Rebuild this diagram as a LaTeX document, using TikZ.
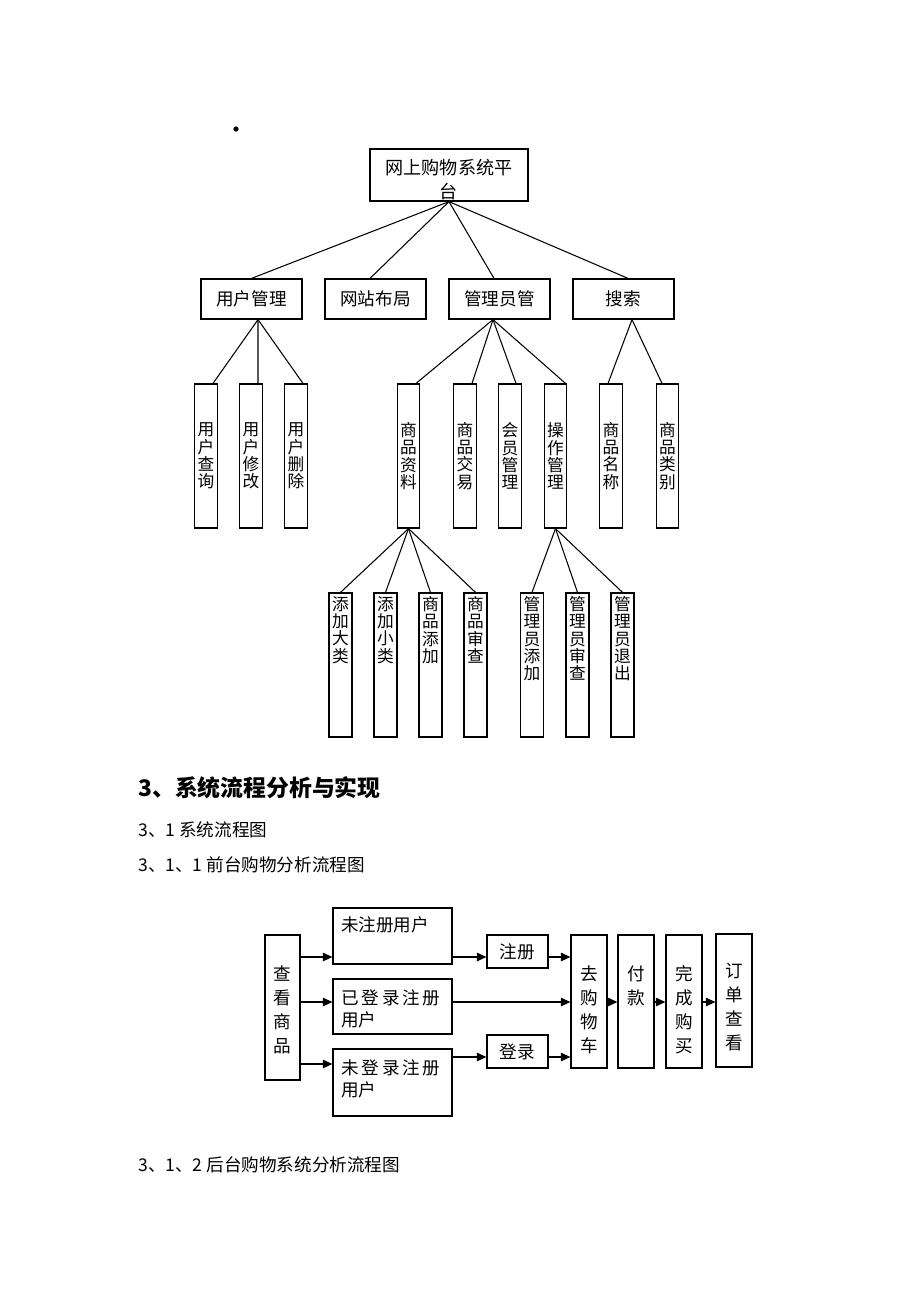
\documentclass[tikz,border=0pt]{standalone}
\usepackage{fontspec}
\setmainfont{Noto Sans CJK SC}
\usetikzlibrary{arrows.meta}

% box of fixed size, text starting at the top
\newcommand{\boxtop}[4]{\begin{minipage}[c][#2][t]{#1}\vspace*{#3}#4\end{minipage}}

\begin{document}
\begin{tikzpicture}[
  x=0.02cm, y=-0.02cm,
  module/.style={rectangle, draw, line width=0.7pt, inner sep=0pt, align=center, font=\fontsize{10}{13.6}\selectfont},
  wide/.style={module, minimum width=2.02cm, minimum height=0.8cm},
  tall/.style={module, minimum width=0.45cm, minimum height=2.88cm, font=\fontsize{9.5}{9.8}\selectfont},
  leaf/.style={rectangle, draw, line width=0.7pt, inner sep=0pt, font=\fontsize{9.5}{9.8}\selectfont},
  branch/.style={line width=0.6pt},
  fbox/.style={rectangle, draw, line width=0.7pt, inner sep=0pt, font=\fontsize{10}{12.5}\selectfont},
  flow/.style={-{Triangle[length=1.9mm, width=1.7mm]}, line width=0.6pt},
  heading/.style={anchor=west, inner sep=0pt, font=\fontsize{10}{12}\selectfont}
]
\useasboundingbox (0,0) rectangle (920,1302);

\fill (236,129) circle (1.5pt);

% Level 0
\node[leaf, font=\fontsize{10.3}{13.6}\selectfont] (Platform) at (449,175) {\boxtop{3.16cm}{1.04cm}{0.2cm}{\centering 网上购物系统平\\台}};

% Level 1
\node[wide] (UserMgmt) at (251.5,299) {用户管理};
\node[wide] (SiteLayout) at (375.5,299) {网站布局};
\node[wide] (AdminMgmt) at (499.5,299) {管理员管};
\node[wide] (Search) at (623.5,299) {搜索};

% Level 2
\node[tall] (UserQuery) at (206,456) {用\\户\\查\\询};
\node[tall] (UserEdit) at (251,456) {用\\户\\修\\改};
\node[tall] (UserDelete) at (296,456) {用\\户\\删\\除};
\node[tall] (GoodsInfo) at (408.5,456) {商\\品\\资\\料};
\node[tall] (GoodsTrade) at (465,456) {商\\品\\交\\易};
\node[tall] (MemberMgmt) at (510,456) {会\\员\\管\\理};
\node[tall] (OpMgmt) at (555.5,456) {操\\作\\管\\理};
\node[tall] (GoodsName) at (611,456) {商\\品\\名\\称};
\node[tall] (GoodsType) at (667.5,456) {商\\品\\类\\别};

% Level 3
\node[leaf] (AddMajor) at (340.5,665) {\boxtop{0.46cm}{2.88cm}{2pt}{\centering 添\\加\\大\\类}};
\node[leaf] (AddMinor) at (385.5,665) {\boxtop{0.46cm}{2.88cm}{2pt}{\centering 添\\加\\小\\类}};
\node[leaf] (GoodsAdd) at (430.5,665) {\boxtop{0.46cm}{2.88cm}{2pt}{\centering 商\\品\\添\\加}};
\node[leaf] (GoodsAudit) at (475.5,665) {\boxtop{0.46cm}{2.88cm}{2pt}{\centering 商\\品\\审\\查}};
\node[leaf] (AdminAdd) at (532,665) {\boxtop{0.46cm}{2.88cm}{2pt}{\centering 管\\理\\员\\添\\加}};
\node[leaf] (AdminAudit) at (577.5,665) {\boxtop{0.46cm}{2.88cm}{2pt}{\centering 管\\理\\员\\审\\查}};
\node[leaf] (AdminExit) at (622.5,665) {\boxtop{0.46cm}{2.88cm}{2pt}{\centering 管\\理\\员\\退\\出}};

% Platform -> modules
\draw[branch] (Platform.south) -- (UserMgmt.north);
\draw[branch] (Platform.south) -- ([xshift=-0.11cm]SiteLayout.north);
\draw[branch] (Platform.south) -- ([xshift=-0.11cm]AdminMgmt.north);
\draw[branch] (Platform.south) -- ([xshift=0.09cm]Search.north);

% modules -> functions
\draw[branch] ([xshift=0.13cm]UserMgmt.south) -- ([xshift=0.14cm]UserQuery.north);
\draw[branch] ([xshift=0.13cm]UserMgmt.south) -- ([xshift=0.14cm]UserEdit.north);
\draw[branch] ([xshift=0.13cm]UserMgmt.south) -- ([xshift=0.14cm]UserDelete.north);
\draw[branch] ([xshift=-0.13cm]AdminMgmt.south) -- ([xshift=0.15cm]GoodsInfo.north);
\draw[branch] ([xshift=-0.13cm]AdminMgmt.south) -- ([xshift=0.14cm]GoodsTrade.north);
\draw[branch] ([xshift=-0.13cm]AdminMgmt.south) -- ([xshift=0.12cm]MemberMgmt.north);
\draw[branch] ([xshift=-0.13cm]AdminMgmt.south) -- ([xshift=0.2cm]OpMgmt.north);
\draw[branch] ([xshift=0.17cm]Search.south) -- ([xshift=-0.06cm]GoodsName.north);
\draw[branch] ([xshift=0.17cm]Search.south) -- ([xshift=-0.11cm]GoodsType.north);

% functions -> sub functions
\draw[branch] (GoodsInfo.south) -- (AddMajor.north);
\draw[branch] (GoodsInfo.south) -- (AddMinor.north);
\draw[branch] (GoodsInfo.south) -- (GoodsAdd.north);
\draw[branch] (GoodsInfo.south) -- (GoodsAudit.north);
\draw[branch] (OpMgmt.south) -- (AdminAdd.north);
\draw[branch] (OpMgmt.south) -- (AdminAudit.north);
\draw[branch] (OpMgmt.south) -- (AdminExit.north);

% Section headings
\node[heading, font=\bfseries\fontsize{13}{15}\selectfont] (Sec3) at (138,788) {3、系统流程分析与实现};
\node[heading] (Sec31) at (138,830) {3、1 系统流程图};
\node[heading] (Sec311) at (138,865) {3、1、1 前台购物分析流程图};
\node[heading] (Sec312) at (138,1165) {3、1、2 后台购物系统分析流程图};

% Front-end flow
\node[fbox] (Browse) at (282.5,1007.5) {\boxtop{0.7cm}{2.9cm}{0.62cm}{\centering\fontsize{10}{13.6}\selectfont 查\\看\\商\\品}};
\node[fbox] (Unreg) at (392.5,936) {\boxtop{2.38cm}{1.12cm}{0.18cm}{\hspace*{0.16cm}未注册用户}};
\node[fbox] (Logged) at (392.5,1006.5) {\boxtop{2.38cm}{1.1cm}{0.22cm}{\hspace*{0.16cm}已\,登\,录\,注\,册\\\hspace*{0.16cm}用户}};
\node[fbox] (NotLogged) at (392.5,1082.5) {\boxtop{2.38cm}{1.34cm}{0.22cm}{\hspace*{0.16cm}未\,登\,录\,注\,册\\\hspace*{0.16cm}用户}};
\node[fbox, minimum width=1.22cm, minimum height=0.66cm] (Register) at (517.5,951.5) {注册};
\node[fbox, minimum width=1.22cm, minimum height=0.66cm] (Login) at (517.5,1051.5) {登录};
\node[fbox] (Cart) at (589,1001.5) {\boxtop{0.72cm}{2.66cm}{0.62cm}{\centering\fontsize{10}{13.6}\selectfont 去\\购\\物\\车}};
\node[fbox] (Pay) at (636,1001.5) {\boxtop{0.72cm}{2.66cm}{0.62cm}{\centering\fontsize{10}{13.6}\selectfont 付\\款}};
\node[fbox] (Done) at (684,1001.5) {\boxtop{0.72cm}{2.66cm}{0.62cm}{\centering\fontsize{10}{13.6}\selectfont 完\\成\\购\\买}};
\node[fbox] (Order) at (734,1000.5) {\boxtop{0.72cm}{2.66cm}{0.58cm}{\centering\fontsize{10}{13.6}\selectfont 订\\单\\查\\看}};

\draw[flow] (Browse.east |- 0,957) -- (Unreg.west |- 0,957);
\draw[flow] (Browse.east |- 0,1002) -- (Logged.west |- 0,1002);
\draw[flow] (Browse.east |- 0,1064) -- (NotLogged.west |- 0,1064);
\draw[flow] (Unreg.east |- 0,957) -- (Register.west |- 0,957);
\draw[flow] (Logged.east |- 0,1002) -- (Cart.west |- 0,1002);
\draw[flow] (NotLogged.east |- 0,1057) -- (Login.west |- 0,1057);
\draw[flow] (Register.east |- 0,957) -- (Cart.west |- 0,957);
\draw[flow] (Login.east |- 0,1057) -- (Cart.west |- 0,1057);
\draw[flow] (Cart.east |- 0,1002) -- (Pay.west |- 0,1002);
\draw[flow] (Pay.east |- 0,1002) -- (Done.west |- 0,1002);
\draw[flow] (Done.east |- 0,1002) -- (Order.west |- 0,1002);

\end{tikzpicture}
\end{document}
